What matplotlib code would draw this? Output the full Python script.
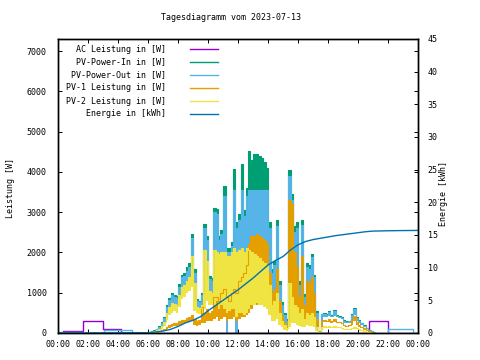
import numpy as np
import matplotlib.pyplot as plt
from matplotlib.lines import Line2D

plt.rcParams['font.family'] = ['DejaVu Sans Mono']
plt.rcParams['font.size'] = 6

title = "Tagesdiagramm vom 2023-07-13"
labels = ["AC Leistung in [W]", "PV-Power-In in [W]", "PV-Power-Out in [W]",
          "PV-1 Leistung in [W]", "PV-2 Leistung in [W]", "Energie in [kWh]"]
colors = ["#9400d3", "#009e73", "#56b4e9", "#e69f00", "#f0e442", "#0072b2"]

# daytime values, 10 minute bins starting 06:00 (hi = upper, lo = lower envelope)
day_start = 6.0
in_hi = [25, 45, 70, 110, 175, 280, 400, 690, 870, 1000,
         950, 930, 1210, 1450, 1490, 1630, 1730, 2450, 1580, 850,
         800, 1000, 2700, 2400, 1420, 1370, 3100, 3080, 2400, 2560,
         3650, 2100, 2100, 2250, 4080, 2750, 2950, 4200, 3050, 3600,
         4530, 4300, 4450, 4450, 4400, 4350, 4250, 4100, 2750, 1600,
         1800, 2800, 1300, 760, 500, 340, 4050, 3460, 2650, 2750,
         1300, 2800, 960, 1750, 1700, 1950, 1450, 540, 60, 480,
         500, 470, 540, 450, 560, 440, 420, 400, 320, 290,
         310, 470, 620, 400, 320, 255, 195, 130, 78, 45,
         22, 6]
out_hi = [20, 40, 60, 100, 160, 260, 380, 650, 820, 950,
          900, 880, 1150, 1380, 1420, 1550, 1650, 2350, 1500, 800,
          760, 950, 2600, 2300, 1350, 1300, 3000, 2950, 2300, 2450,
          3400, 2000, 2000, 2150, 3540, 2600, 2800, 3540, 2900, 3400,
          3540, 3540, 3540, 3540, 3540, 3540, 3540, 3540, 2600, 1500,
          1700, 2650, 1200, 700, 450, 300, 3900, 3300, 2500, 2600,
          1200, 2670, 900, 1650, 1600, 1880, 1380, 500, 50, 460,
          480, 450, 520, 430, 540, 420, 400, 380, 300, 270,
          290, 450, 600, 380, 300, 240, 180, 120, 70, 40,
          20, 5]
out_lo = [0, 20, 40, 60, 100, 160, 250, 400, 600, 650,
          700, 650, 800, 1000, 1100, 1200, 1300, 1400, 700, 650,
          620, 700, 800, 1000, 900, 950, 1000, 1200, 900, 1000,
          900, 0, 800, 900, 1000, 0, 700, 900, 800, 1000,
          1100, 1300, 1400, 1400, 1300, 1300, 1200, 1100, 900, 700,
          800, 900, 500, 350, 200, 150, 400, 700, 600, 500,
          450, 400, 400, 500, 500, 500, 400, 100, 0, 200,
          400, 400, 420, 400, 420, 390, 380, 350, 260, 250,
          260, 300, 450, 300, 250, 200, 150, 100, 50, 20,
          5, 0]
pv1_hi = [5, 10, 20, 30, 50, 70, 100, 150, 200, 220,
          250, 260, 300, 330, 320, 380, 400, 450, 350, 300,
          320, 650, 500, 600, 500, 550, 900, 900, 800, 1000,
          1100, 900, 800, 1000, 1100, 1000, 1300, 1400, 1500, 1700,
          2200, 2400, 2400, 2450, 2400, 2350, 2300, 2200, 1500, 1000,
          1100, 1600, 800, 450, 280, 180, 3300, 3200, 2000, 1650,
          900, 1900, 700, 1300, 1250, 1400, 1000, 350, 30, 300,
          320, 300, 350, 290, 360, 280, 270, 250, 200, 180,
          200, 320, 430, 270, 200, 160, 120, 80, 45, 25,
          10, 0]
pv1_lo = [0, 5, 10, 20, 30, 40, 60, 100, 130, 150,
          170, 180, 200, 230, 240, 260, 280, 300, 200, 180,
          200, 250, 250, 300, 300, 300, 350, 400, 300, 350,
          400, 300, 350, 350, 400, 300, 350, 400, 400, 450,
          500, 600, 700, 700, 700, 700, 650, 600, 500, 400,
          400, 450, 300, 200, 120, 80, 250, 400, 400, 350,
          300, 250, 250, 300, 300, 300, 250, 80, 0, 150,
          280, 270, 280, 260, 280, 260, 250, 230, 170, 160,
          170, 200, 300, 200, 150, 120, 80, 50, 25, 10,
          0, 0]
pv2_hi = [10, 25, 40, 70, 110, 180, 280, 500, 640, 750,
          720, 700, 950, 1150, 1200, 1300, 1400, 1900, 1250, 650,
          620, 700, 2050, 1800, 1050, 1000, 2050, 2000, 1950, 2000,
          2000, 1900, 1900, 2000, 2100, 2000, 2050, 2100, 2000, 2100,
          2050, 2000, 1950, 1900, 1850, 1800, 1750, 1700, 1200, 700,
          800, 1000, 500, 300, 200, 120, 1250, 900, 700, 650,
          500, 600, 350, 500, 450, 500, 400, 150, 20, 150,
          170, 160, 180, 150, 180, 150, 140, 130, 110, 100,
          105, 130, 160, 120, 90, 70, 50, 30, 15, 5,
          0, 0]
pv2_lo = [0, 10, 25, 40, 70, 110, 180, 320, 450, 500,
          550, 500, 650, 850, 900, 1000, 1050, 1150, 550, 500,
          480, 500, 600, 800, 700, 700, 700, 800, 600, 700,
          600, 500, 550, 600, 600, 400, 500, 500, 450, 500,
          600, 700, 700, 750, 700, 700, 650, 600, 450, 300,
          300, 350, 200, 150, 80, 50, 150, 250, 250, 200,
          180, 150, 150, 200, 180, 180, 150, 40, 0, 80,
          130, 120, 130, 120, 130, 120, 115, 110, 90, 80,
          80, 90, 110, 90, 60, 45, 30, 10, 0, 0,
          0, 0]

# night time step values (hour, W)
ac_t = [0, 0.33, 1.67, 3.0, 4.17, 20.75, 22.0, 24]
ac_v = [0, 50, 290, 90, 0, 290, 0, 0]
out_night_t = [0, 1.67, 3.08, 4.93, 6.0, 21.17, 22.0, 23.67, 24]
out_night_v = [30, 0, 70, 0, 0, 0, 90, 0, 0]

# energy (hour, kWh)
energy_t = [0, 6, 6.5, 7, 7.5, 8, 8.5, 9, 9.5, 10, 10.5, 11, 11.5, 12, 12.5,
            13, 13.5, 14, 14.5, 15, 15.5, 16, 16.5, 17, 17.5, 18, 18.5, 19,
            19.5, 20, 20.5, 21, 21.5, 22, 23, 24]
energy_v = [0, 0.05, 0.15, 0.3, 0.55, 1.0, 1.55, 1.95, 2.5, 3.4, 4.2, 5.0, 5.8,
            6.6, 7.5, 8.4, 9.4, 10.4, 11.1, 11.7, 12.7, 13.5, 14.0, 14.3, 14.5,
            14.7, 14.9, 15.05, 15.2, 15.35, 15.5, 15.6, 15.62, 15.65, 15.68, 15.7]

W, H = 480, 360
fig = plt.figure(figsize=(W / 100, H / 100), dpi=100)
ax = fig.add_axes([58 / W, 1 - 333 / H, 360 / W, 294 / H])

t = day_start + np.arange(len(out_hi) + 1) / 6


def band(lo, hi, color):
    lo = np.append(lo, lo[-1])
    hi = np.append(hi, hi[-1])
    ax.fill_between(t, lo, hi, step='post', color=color, lw=0)
    ax.step(t, hi, where='post', color=color, lw=0.8)


ax.step(ac_t, ac_v, where='post', color=colors[0], lw=1)
band(out_lo, in_hi, colors[1])
ax.step(out_night_t, out_night_v, where='post', color=colors[2], lw=1)
band(out_lo, out_hi, colors[2])
band(pv1_lo, pv1_hi, colors[3])
band(pv2_lo, pv2_hi, colors[4])

ax.set_xlim(0, 24)
ax.set_ylim(0, 7300)
ax.set_xticks(range(0, 25, 2))
ax.set_xticklabels(["%02d:00" % (h % 24) for h in range(0, 25, 2)])
ax.set_yticks(range(0, 7001, 1000))

ax2 = ax.twinx()
ax2.plot(energy_t, energy_v, color=colors[5], lw=1)
ax2.set_ylim(0, 45)
ax2.set_yticks(range(0, 46, 5))

ax.tick_params(direction='in', length=3, width=0.7, top=True, right=True,
               labelright=False, labeltop=False)
ax.tick_params(axis='y', pad=8)
ax.tick_params(axis='x', pad=5)
ax2.tick_params(direction='in', length=3, width=0.7, pad=7)
for a in (ax, ax2):
    for s in a.spines.values():
        s.set_linewidth(1)

fig.text(231 / W, 1 - 18 / H, title, ha='center', va='center')
fig.text(11 / W, 1 - 188 / H, "Leistung [W]", rotation=90, ha='center', va='center')
fig.text(443 / W, 1 - 194 / H, "Energie [kWh]", rotation=90, ha='center', va='center')

# legend, gnuplot style: right aligned text, line sample on the right
for i, (lab, c) in enumerate(zip(labels, colors)):
    py = 49 + i * 13
    ay = (333 - py) / 294
    ax.text((166 - 58) / 360, ay, lab, transform=ax.transAxes, ha='right', va='center')
    ax.add_line(Line2D([(190 - 58) / 360, (218 - 58) / 360], [ay, ay],
                       transform=ax.transAxes, color=c, lw=1))

fig.savefig("out.png", dpi=100)
